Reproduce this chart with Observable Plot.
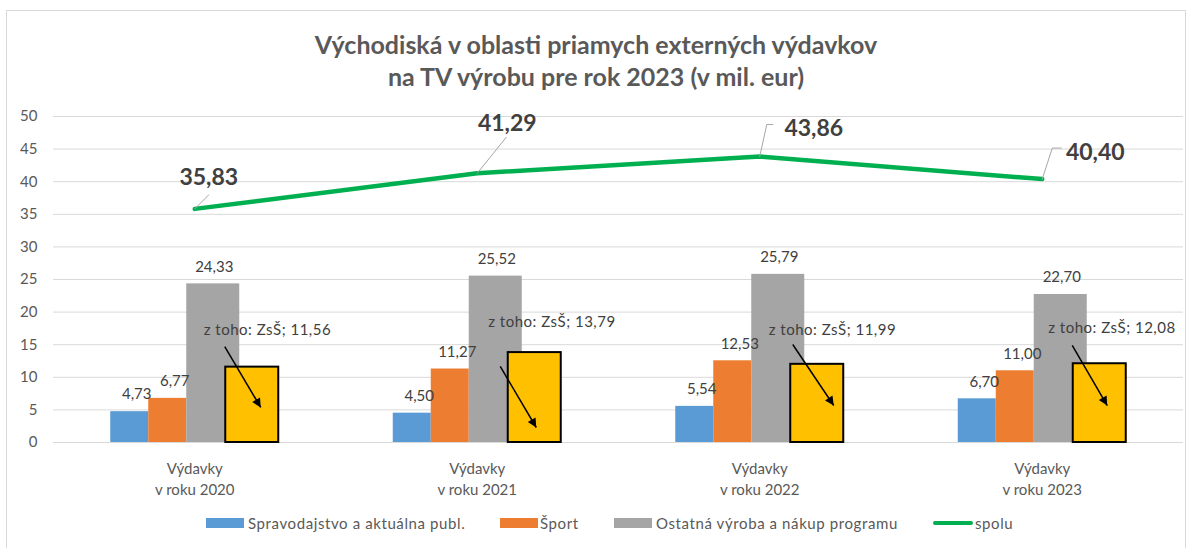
<!DOCTYPE html>
<html><head><meta charset="utf-8">
<script src="https://cdn.jsdelivr.net/npm/d3@7"></script>
<script src="https://cdn.jsdelivr.net/npm/@observablehq/plot@0.6"></script>
<style>
body{margin:0;background:#fff;font-family:Lato,"Open Sans",sans-serif;}
#wrap{position:relative;width:1192px;height:548px;overflow:hidden;background:#fff;}
#frame{position:absolute;left:6px;top:10px;width:1178px;height:560px;border:1px solid #d9d9d9;}
#title{position:absolute;left:0;width:1192px;top:28px;text-align:center;font-weight:bold;font-size:25px;line-height:32px;color:#595959;}
#chart{position:absolute;left:0;top:100px;}
.sw{position:absolute;top:518px;width:38px;height:10px;}
.lt{position:absolute;top:514px;font-size:15px;letter-spacing:0.6px;line-height:18px;color:#595959;white-space:nowrap;}
</style>
</head><body>
<div id="wrap">
  <div id="frame"></div>
  <div id="title">Východiská v oblasti priamych externých výdavkov<br>na TV výrobu pre rok 2023 (v mil. eur)</div>
  <div id="chart"></div>
  <div id="legend"></div>
</div>
<script>
// ---- data ----
const years = ["2020", "2021", "2022", "2023"];
const xLabels = years.map(y => `Výdavky\nv roku ${y}`);
const spravodajstvo = [4.73, 4.50, 5.54, 6.70];
const sport = [6.77, 11.27, 12.53, 11.00];
const ostatna = [24.33, 25.52, 25.79, 22.70];
const zss = [11.56, 13.79, 11.99, 12.08];
const spolu = [35.83, 41.29, 43.86, 40.40];
const yTicks = [0, 5, 10, 15, 20, 25, 30, 35, 40, 45, 50];
const seriesNames = ["Spravodajstvo a aktuálna publ.", "Šport", "Ostatná výroba a nákup programu", "spolu"];
const zssPrefix = "z toho: ZsŠ; ";

// ---- layout / style ----
const W = 1192, H = 410, mL = 53, mR = 9, mT = 16, mB = 68;
const kx = 4 / (W - mL - mR);        // x units per px
const ky = 50 / (H - mT - mB);       // y units per px
const colors = {blue: "#5b9bd5", orange: "#ed7d31", gray: "#a5a5a5", yellow: "#ffc000", green: "#00b050"};
const slot = { // px offsets from category center
  blue: [-84, -46], orange: [-46, -8], gray: [-8, 45], yellow: [31, 84]
};
const fmt = v => d3.format(".2f")(v).replace(".", ",");
const idx = years.map((_, i) => i);

function barsOf(values) { return values.map((v, i) => ({i, v})); }
function rect(values, s, extra = {}) {
  return Plot.rectY(barsOf(values), {
    x1: d => d.i + slot[s][0] * kx, x2: d => d.i + slot[s][1] * kx,
    y1: 0, y2: "v", fill: colors[s], ...extra
  });
}
function valLabel(values, s, dxp) {
  return Plot.text(barsOf(values), {
    x: d => d.i + ((slot[s][0] + slot[s][1]) / 2 + dxp) * kx,
    y: "v", dy: -17, text: d => fmt(d.v), fill: "#404040", fontSize: 15
  });
}

// annotations (px relative to category center / data y)
const zssLabPos = [[9, 17.3], [11, 18.4], [9, 17.2], [6, 17.5]];
const arrowPos = [[[30, 14.72], [66, 5.37]], [[23, 11.66], [59, 2.30]], [[33, 15.03], [74, 5.67]], [[30, 14.88], [65, 5.67]]];
const totalLabOff = [[14, -31], [30, -50], [54, -28], [53, -26]];
const leaderPts = [
  [[0, 0], [14, -14]],
  [[0, 0], [29, -36]],
  [[0, 0], [7, -32], [13, -32]],
  [[0, 0], [10, -31], [19, -31]]
];

const zssLabels = zss.map((v, i) => ({x: i + zssLabPos[i][0] * kx, y: zssLabPos[i][1], t: zssPrefix + fmt(v)}));
const arrows = arrowPos.map((a, i) => ({x1: i + a[0][0] * kx, y1: a[0][1], x2: i + a[1][0] * kx, y2: a[1][1]}));
const totalLabels = spolu.map((v, i) => ({x: i + totalLabOff[i][0] * kx, y: v - totalLabOff[i][1] * ky, t: fmt(v)}));
const leaders = spolu.flatMap((v, i) => leaderPts[i].map(p => ({g: i, x: i + p[0] * kx, y: v - p[1] * ky})));

const plot = Plot.plot({
  width: W, height: H, marginLeft: mL, marginRight: mR, marginTop: mT, marginBottom: mB,
  style: {fontFamily: "Lato, 'Open Sans', sans-serif", fontSize: "15px", color: "#595959", background: "transparent", overflow: "visible"},
  x: {type: "linear", domain: [-0.5, 3.5]},
  y: {domain: [0, 50]},
  marks: [
    Plot.gridY(yTicks, {stroke: "#d9d9d9", strokeOpacity: 1, strokeWidth: 1}),
    Plot.axisY(yTicks, {tickSize: 0, tickPadding: 16, label: null, fill: "#595959"}),
    Plot.axisX(idx, {tickSize: 0, tickPadding: 17, tickFormat: i => xLabels[i], label: null, lineHeight: 1.4, fill: "#595959"}),
    rect(spravodajstvo, "blue"),
    rect(sport, "orange"),
    rect(ostatna, "gray"),
    rect(zss, "yellow", {stroke: "black", strokeWidth: 2}),
    valLabel(spravodajstvo, "blue", 7),
    valLabel(sport, "orange", 7),
    valLabel(ostatna, "gray", 1),
    Plot.text(zssLabels, {x: "x", y: "y", text: "t", textAnchor: "start", fill: "#404040", fontSize: 15, letterSpacing: "0.5px"}),
    Plot.link(arrows, {x1: "x1", y1: "y1", x2: "x2", y2: "y2", stroke: "black", strokeWidth: 1.5, markerEnd: "arrow"}),
    Plot.line(spolu.map((v, i) => ({i, v})), {x: "i", y: "v", stroke: colors.green, strokeWidth: 4.5}),
    Plot.line(leaders, {x: "x", y: "y", z: "g", stroke: "#a6a6a6", strokeWidth: 1}),
    Plot.text(totalLabels, {x: "x", y: "y", text: "t", fill: "#404040", fontSize: 23, fontWeight: "bold"})
  ]
});
// filled arrowheads
plot.querySelectorAll("marker").forEach(m => {
  m.setAttribute("viewBox", "-10 -5 10 10");
  m.setAttribute("fill", "black");
  m.setAttribute("stroke", "none");
  m.setAttribute("overflow", "visible");
  m.querySelectorAll("path").forEach(p => p.setAttribute("d", "M-9,-4.5L0,0L-9,4.5Z"));
});
// letter spacing for ZsŠ labels
plot.querySelectorAll("text").forEach(t => {
  if (t.textContent.startsWith("z toho")) t.setAttribute("letter-spacing", "0.5px");
});
document.getElementById("chart").appendChild(plot);

// legend
const legItems = [
  {name: seriesNames[0], c: colors.blue, sx: 206, tx: 248},
  {name: seriesNames[1], c: colors.orange, sx: 500, tx: 540},
  {name: seriesNames[2], c: colors.gray, sx: 614, tx: 656},
  {name: seriesNames[3], c: colors.green, sx: 933, tx: 975, line: true}
];
const leg = document.getElementById("legend");
legItems.forEach(it => {
  const s = document.createElement("div");
  s.className = "sw";
  s.style.left = it.sx + "px";
  s.style.background = it.c;
  if (it.line) { s.style.height = "4px"; s.style.top = "521px"; s.style.width = "40px"; s.style.borderRadius = "2px"; }
  leg.appendChild(s);
  const t = document.createElement("div");
  t.className = "lt";
  t.style.left = it.tx + "px";
  t.textContent = it.name;
  leg.appendChild(t);
});
</script>
</body></html>
